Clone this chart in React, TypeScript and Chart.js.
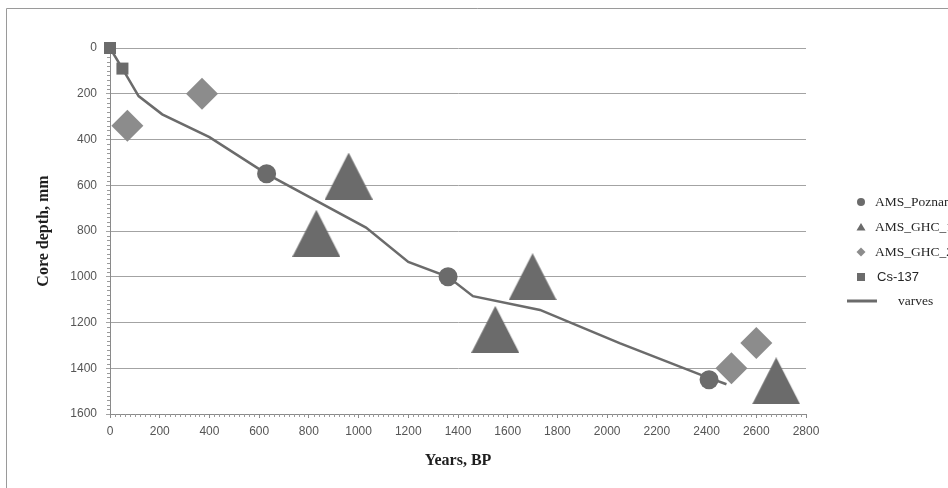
import React, { useEffect, useRef } from 'react';
import { Chart, registerables } from 'chart.js';

Chart.register(...registerables);

// ---- data ----
const seriesNames = ['AMS_Poznan', 'AMS_GHC_1', 'AMS_GHC_2', 'Cs-137', 'varves'];

const poznanYears = [630, 1360, 2410];
const poznanDepth = [550, 1000, 1450];

const ghcTriYears = [960, 830, 1700, 1550, 2680];
const ghcTriDepth = [560, 810, 1000, 1230, 1455];

const ghcDiaYears = [70, 370, 2500, 2600];
const ghcDiaDepth = [340, 200, 1400, 1290];

const csYears = [0, 50];
const csDepth = [0, 90];

const varveYears = [0, 50, 115, 210, 400, 630, 1030, 1200, 1360, 1460, 1730, 2050, 2380, 2480];
const varveDepth = [0, 90, 210, 290, 390, 550, 785, 935, 1000, 1085, 1145, 1290, 1430, 1470];

const yearTicks = [0, 200, 400, 600, 800, 1000, 1200, 1400, 1600, 1800, 2000, 2200, 2400, 2600, 2800];
const depthTicks = [0, 200, 400, 600, 800, 1000, 1200, 1400, 1600];

const xTitle = 'Years, BP';
const yTitle = 'Core depth, mm';

// ---- style ----
const DARK = '#6b6b6b';
const LIGHT = '#8c8c8c';

function pts(xs: number[], ys: number[]) {
  return xs.map((x, i) => ({ x, y: ys[i] }));
}

function makeTriangle(w: number, h: number, color: string) {
  const c = document.createElement('canvas');
  c.width = w;
  c.height = h;
  const ctx = c.getContext('2d')!;
  ctx.fillStyle = color;
  ctx.beginPath();
  ctx.moveTo(w / 2, 0);
  ctx.lineTo(w, h);
  ctx.lineTo(0, h);
  ctx.closePath();
  ctx.fill();
  return c;
}

const framePlugin = {
  id: 'frame',
  beforeDraw(chart: any) {
    const { ctx } = chart;
    ctx.save();
    ctx.fillStyle = '#ffffff';
    ctx.fillRect(0, 0, chart.width, chart.height);
    ctx.strokeStyle = '#9a9a9a';
    ctx.lineWidth = 1;
    ctx.beginPath();
    ctx.moveTo(6.5, chart.height + 5);
    ctx.lineTo(6.5, 8.5);
    ctx.lineTo(chart.width + 5, 8.5);
    ctx.stroke();
    ctx.restore();
  },
};

const minorTicksPlugin = {
  id: 'minorTicks',
  beforeDatasetsDraw(chart: any) {
    const { ctx, scales, chartArea } = chart;
    const xs = scales.x;
    const ys = scales.y;
    ctx.save();
    ctx.strokeStyle = '#9a9a9a';
    ctx.lineWidth = 1;
    ctx.beginPath();
    for (let v = 0; v <= xs.max; v += 20) {
      if (v % 200 === 0) continue;
      const px = Math.round(xs.getPixelForValue(v)) + 0.5;
      ctx.moveTo(px, chartArea.bottom);
      ctx.lineTo(px, chartArea.bottom + 3);
    }
    for (let v = 0; v <= ys.max; v += 20) {
      if (v % 200 === 0) continue;
      const py = Math.round(ys.getPixelForValue(v)) + 0.5;
      ctx.moveTo(chartArea.left - 3, py);
      ctx.lineTo(chartArea.left, py);
    }
    ctx.stroke();
    ctx.restore();
  },
};

const legendPlugin = {
  id: 'customLegend',
  afterDraw(chart: any) {
    const { ctx } = chart;
    const ds = chart.data.datasets;
    const mx = 861;
    const rows = [202, 227, 252, 277, 301];
    ctx.save();
    ctx.textBaseline = 'middle';
    ctx.textAlign = 'left';
    // circle
    ctx.fillStyle = ds[0].backgroundColor;
    ctx.beginPath();
    ctx.arc(mx, rows[0], 4, 0, Math.PI * 2);
    ctx.fill();
    // triangle
    ctx.fillStyle = ds[1].backgroundColor;
    ctx.beginPath();
    ctx.moveTo(mx, rows[1] - 4);
    ctx.lineTo(mx + 4.5, rows[1] + 3.5);
    ctx.lineTo(mx - 4.5, rows[1] + 3.5);
    ctx.closePath();
    ctx.fill();
    // diamond
    ctx.fillStyle = ds[2].backgroundColor;
    ctx.beginPath();
    ctx.moveTo(mx, rows[2] - 4.5);
    ctx.lineTo(mx + 4.5, rows[2]);
    ctx.lineTo(mx, rows[2] + 4.5);
    ctx.lineTo(mx - 4.5, rows[2]);
    ctx.closePath();
    ctx.fill();
    // square
    ctx.fillStyle = ds[3].backgroundColor;
    ctx.fillRect(mx - 4, rows[3] - 4, 8, 8);
    // line
    ctx.strokeStyle = ds[4].borderColor;
    ctx.lineWidth = 3;
    ctx.beginPath();
    ctx.moveTo(847, rows[4]);
    ctx.lineTo(877, rows[4]);
    ctx.stroke();

    ctx.fillStyle = '#262626';
    ctx.font = '13.5px "Liberation Serif", "Times New Roman", serif';
    ctx.fillText(ds[0].label, 875, rows[0]);
    ctx.fillText(ds[1].label, 875, rows[1]);
    ctx.fillText(ds[2].label, 875, rows[2]);
    ctx.font = '13px "Liberation Sans", Arial, sans-serif';
    ctx.fillText(ds[3].label, 877, rows[3]);
    ctx.font = '13.5px "Liberation Serif", "Times New Roman", serif';
    ctx.fillText(ds[4].label, 898, rows[4]);
    ctx.restore();
  },
};

export default function App() {
  const ref = useRef<HTMLCanvasElement | null>(null);

  useEffect(() => {
    if (!ref.current) return;
    const tri = makeTriangle(48, 47, DARK);
    const tickFont = { family: '"Liberation Sans", Arial, sans-serif', size: 12 };
    const titleFont = { family: '"Liberation Serif", "Times New Roman", serif', size: 16, weight: 'bold' as const };
    const plain = (v: any) => String(v);

    const chart = new Chart(ref.current, {
      type: 'scatter',
      data: {
        datasets: [
          {
            label: seriesNames[0],
            data: pts(poznanYears, poznanDepth),
            backgroundColor: DARK,
            borderColor: DARK,
            pointStyle: 'circle',
            pointRadius: 9.5,
            pointBorderWidth: 0,
            clip: false,
            order: 0,
          } as any,
          {
            label: seriesNames[1],
            data: pts(ghcTriYears, ghcTriDepth),
            backgroundColor: DARK,
            borderColor: DARK,
            pointStyle: tri as any,
            pointRadius: 24,
            pointBorderWidth: 0,
            clip: false,
            order: 2,
          } as any,
          {
            label: seriesNames[2],
            data: pts(ghcDiaYears, ghcDiaDepth),
            backgroundColor: LIGHT,
            borderColor: LIGHT,
            pointStyle: 'rectRot',
            pointRadius: 16,
            pointBorderWidth: 0,
            clip: false,
            order: 3,
          } as any,
          {
            label: seriesNames[3],
            data: pts(csYears, csDepth),
            backgroundColor: DARK,
            borderColor: DARK,
            pointStyle: 'rect',
            pointRadius: 8.5,
            pointBorderWidth: 0,
            clip: false,
            order: 0,
          } as any,
          {
            label: seriesNames[4],
            data: pts(varveYears, varveDepth),
            showLine: true,
            borderColor: DARK,
            backgroundColor: DARK,
            borderWidth: 2.5,
            tension: 0,
            pointRadius: 0,
            clip: false,
            order: 1,
          } as any,
        ],
      },
      options: {
        animation: false,
        responsive: false,
        devicePixelRatio: 1,
        layout: { padding: { left: 0, top: 48, right: 142, bottom: 0 } },
        plugins: {
          legend: { display: false },
          tooltip: { enabled: false },
        },
        scales: {
          x: {
            type: 'linear',
            min: 0,
            max: 2800,
            afterBuildTicks: (axis: any) => {
              axis.ticks = yearTicks.map((v) => ({ value: v }));
            },
            afterFit: (axis: any) => {
              axis.height = 74;
            },
            grid: {
              drawOnChartArea: false,
              drawTicks: true,
              tickLength: 4,
              color: '#8a8a8a',
            },
            border: { color: '#8a8a8a', width: 1 },
            ticks: {
              autoSkip: false,
              maxRotation: 0,
              padding: 6,
              color: '#555555',
              font: tickFont,
              callback: plain,
            },
            title: {
              display: true,
              text: xTitle,
              color: '#1e1e1e',
              font: titleFont,
              padding: { top: 0, bottom: 18 },
            },
          },
          y: {
            type: 'linear',
            reverse: true,
            min: 0,
            max: 1600,
            afterBuildTicks: (axis: any) => {
              axis.ticks = depthTicks.map((v) => ({ value: v }));
            },
            afterFit: (axis: any) => {
              axis.width = 110;
            },
            grid: {
              drawOnChartArea: true,
              drawTicks: true,
              tickLength: 4,
              color: '#a3a3a3',
              lineWidth: 1,
            },
            border: { color: '#8a8a8a', width: 1 },
            ticks: {
              autoSkip: false,
              padding: 9,
              color: '#555555',
              font: tickFont,
              callback: plain,
            },
            title: {
              display: true,
              text: yTitle,
              color: '#1e1e1e',
              font: titleFont,
              padding: { top: 34, bottom: 0 },
            },
          },
        },
      },
      plugins: [framePlugin, minorTicksPlugin, legendPlugin],
    });
    return () => chart.destroy();
  }, []);

  return (
    <div style={{ position: 'fixed', left: 0, top: 0, width: 948, height: 488, overflow: 'hidden', background: '#fff' }}>
      <canvas ref={ref} width={948} height={488} style={{ display: 'block', width: 948, height: 488 }} />
    </div>
  );
}
